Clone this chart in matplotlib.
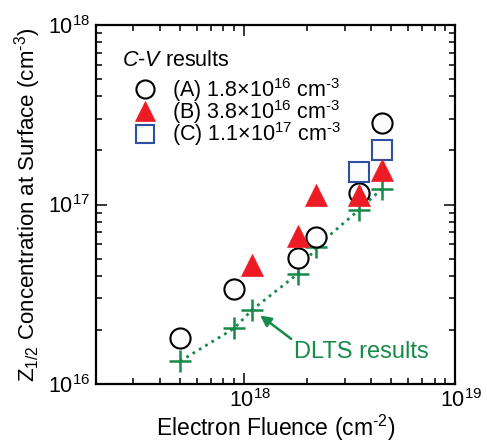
import matplotlib
matplotlib.use("Agg")
import matplotlib.pyplot as plt
import matplotlib.transforms as mtransforms
from matplotlib.ticker import LogLocator, NullFormatter

plt.rcParams['font.family'] = ['Liberation Sans', 'DejaVu Sans']
plt.rcParams['mathtext.fontset'] = 'custom'
plt.rcParams['mathtext.rm'] = 'Liberation Sans'
plt.rcParams['mathtext.it'] = 'Liberation Sans:italic'
plt.rcParams['mathtext.bf'] = 'Liberation Sans:bold'

# C-V results, sample A (circles)
fluence_a = [5.0e17, 9.0e17, 1.8e18, 2.2e18, 3.5e18, 4.5e18]
conc_a = [1.8e16, 3.4e16, 5.05e16, 6.6e16, 1.16e17, 2.83e17]

# sample B (triangles)
fluence_b = [1.1e18, 1.8e18, 2.2e18, 3.5e18, 4.5e18]
conc_b = [4.6e16, 6.7e16, 1.13e17, 1.13e17, 1.55e17]

# sample C (squares)
fluence_c = [3.5e18, 4.5e18]
conc_c = [1.52e17, 2.01e17]

# DLTS results
fluence_dlts = [5.0e17, 9.0e17, 1.1e18, 1.8e18, 2.2e18, 3.5e18, 4.5e18]
conc_dlts = [1.34e16, 2.04e16, 2.6e16, 4.1e16, 5.8e16, 9.3e16, 1.22e17]

labels = [r'(A) 1.8$\times$10$^{16}$ cm$^{\text{-}3}$',
          r'(B) 3.8$\times$10$^{16}$ cm$^{\text{-}3}$',
          r'(C) 1.1$\times$10$^{17}$ cm$^{\text{-}3}$']

red = '#ed1c24'
blue = '#2e4fa2'
green = '#168a48'

fig = plt.figure(figsize=(4.87, 4.44), dpi=100)
ax = fig.add_axes([96/487, 1-384/444, 359/487, 359/444])

# DLTS line + crosses
ax.plot(fluence_dlts, conc_dlts, linestyle=':', color=green, linewidth=2, zorder=2)
ax.plot(fluence_dlts, conc_dlts, linestyle='none', marker='+', markersize=15.5,
        markeredgewidth=1.8, color=green, zorder=3)

# C-V results
h_a, = ax.plot(fluence_a, conc_a, linestyle='none', marker='o', markersize=14.5,
               markerfacecolor='#fcfcfc', markeredgecolor='black', markeredgewidth=1.5,
               zorder=4, label=labels[0])
h_c, = ax.plot(fluence_c, conc_c, linestyle='none', marker='s', markersize=14.5,
               markerfacecolor='#fcfcfc', markeredgecolor=blue, markeredgewidth=1.5,
               zorder=5, label=labels[2])
h_b, = ax.plot(fluence_b, conc_b, linestyle='none', marker='^', markersize=16,
               markerfacecolor=red, markeredgecolor=red, markeredgewidth=0.5,
               zorder=6, label=labels[1])

ax.set_xscale('log')
ax.set_yscale('log')
ax.set_xlim(2e17, 1e19)
ax.set_ylim(1e16, 1e18)

ax.xaxis.set_major_locator(LogLocator(base=10, numticks=10))
ax.yaxis.set_major_locator(LogLocator(base=10, numticks=10))
ax.xaxis.set_minor_locator(LogLocator(base=10, subs=range(2, 10), numticks=20))
ax.yaxis.set_minor_locator(LogLocator(base=10, subs=range(2, 10), numticks=20))
ax.xaxis.set_minor_formatter(NullFormatter())
ax.yaxis.set_minor_formatter(NullFormatter())

ax.tick_params(which='both', direction='in', top=True, right=True, width=1.1)
ax.tick_params(which='major', length=8, labelsize=15.5, pad=4)
ax.tick_params(which='minor', length=4.5)
for sp in ax.spines.values():
    sp.set_linewidth(1.6)

# x tick labels sit a little to the right of their ticks in the original
shift = mtransforms.ScaledTranslation(6/100, 0, fig.dpi_scale_trans)
for lbl in ax.get_xticklabels():
    lbl.set_transform(lbl.get_transform() + shift)

ax.set_xlabel(r'Electron Fluence (cm$^{\text{-}2}$)', fontsize=16.5, labelpad=0)
ax.set_ylabel(r'Z$_{1/2}$ Concentration at Surface (cm$^{\text{-}3}$)', fontsize=16, labelpad=4)

# legend: heading as plain text, entries as a borderless legend below it
ax.text(0.072, 0.886, r'$\mathit{C}$-$\mathit{V}$ results', transform=ax.transAxes,
        fontsize=15.5, ha='left', va='baseline')
leg = ax.legend(handles=[h_a, h_b, h_c], loc='upper left', bbox_to_anchor=(0.111, 0.858),
                frameon=False, fontsize=15.5, handlelength=0.84, handletextpad=0.84,
                labelspacing=-0.27, borderpad=0, borderaxespad=0, markerscale=0.9)

ax.annotate('DLTS results', xy=(1.1e18, 2.6e16), xytext=(294/487, 1-358/444),
            textcoords='figure fraction', color=green, fontsize=17,
            ha='left', va='baseline',
            arrowprops=dict(arrowstyle='-|>', color=green, lw=1.8,
                            mutation_scale=16, shrinkA=0, shrinkB=7,
                            relpos=(0.0, 1.0)))

fig.savefig('out.png', dpi=100)
